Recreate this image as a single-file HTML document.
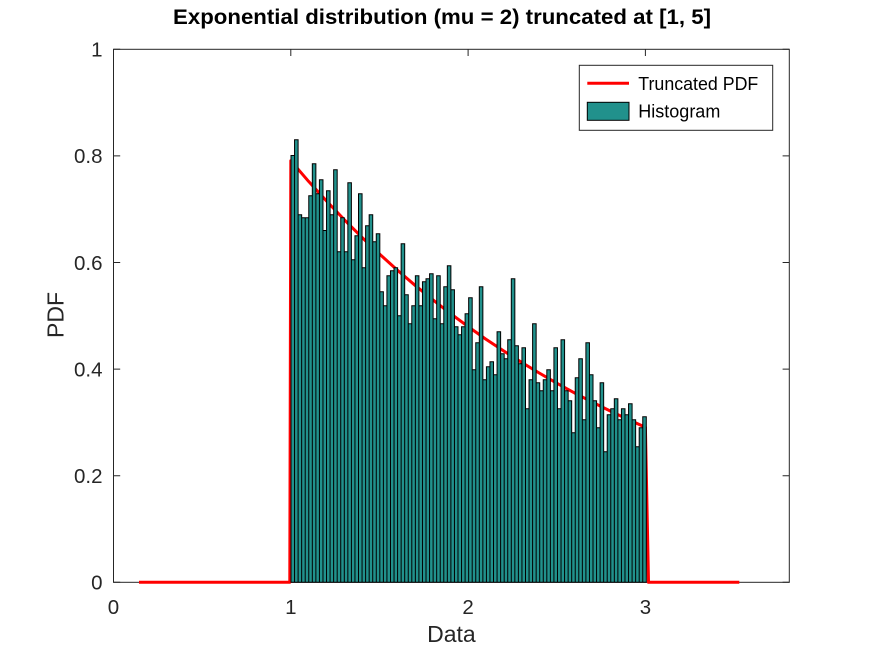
<!DOCTYPE html>
<html>
<head>
<meta charset="utf-8">
<style>
html,body{margin:0;padding:0;background:#fff;}
svg{display:block;}
text{font-family:"Liberation Sans",Arial,sans-serif;}
</style>
</head>
<body>
<svg width="872" height="654" viewBox="0 0 872 654" xmlns="http://www.w3.org/2000/svg">
<rect x="0" y="0" width="872" height="654" fill="#fff"/>
<rect x="113.5" y="49.3" width="675.8" height="533" fill="#fff" stroke="#262626" stroke-width="1"/>
<path fill="none" stroke="#262626" stroke-width="1" d="M113.5 582.3h6.7M789.3 582.3h-6.7M113.5 475.7h6.7M789.3 475.7h-6.7M113.5 369.1h6.7M789.3 369.1h-6.7M113.5 262.5h6.7M789.3 262.5h-6.7M113.5 155.9h6.7M789.3 155.9h-6.7M113.5 49.3h6.7M789.3 49.3h-6.7M290.8 582.3v-6.7M290.8 49.3v6.7M468.1 582.3v-6.7M468.1 49.3v6.7M645.4 582.3v-6.7M645.4 49.3v6.7"/>
<polyline fill="none" stroke="#ff0000" stroke-width="3" stroke-linejoin="round" points="139,582.3 289.8,582.3 290.8,160.7 308.5,181.3 326.3,200.8 344.0,219.4 361.7,237.1 379.5,254.0 397.2,270.0 414.9,285.2 432.7,299.7 450.4,313.5 468.1,326.6 485.8,339.1 503.6,350.9 521.3,362.2 539.0,372.9 556.8,383.2 574.5,392.9 592.2,402.1 610.0,410.9 627.7,419.3 645.4,427.2 648.5,582.3 739.3,582.3"/>
<path fill="#21918c" stroke="#000" stroke-width="1" d="M291 582.3V155.5h3.55V582.3zM294.55 582.3V139.8h3.55V582.3zM298.11 582.3V214.8h3.55V582.3zM301.66 582.3V217.8h3.55V582.3zM305.21 582.3V217.8h3.55V582.3zM308.77 582.3V195.8h3.55V582.3zM312.32 582.3V163.8h3.55V582.3zM315.87 582.3V193.8h3.55V582.3zM319.42 582.3V179.8h3.55V582.3zM322.98 582.3V230.5h3.55V582.3zM326.53 582.3V190.8h3.55V582.3zM330.08 582.3V214.8h3.55V582.3zM333.64 582.3V169.8h3.55V582.3zM337.19 582.3V251.8h3.55V582.3zM340.74 582.3V217.8h3.55V582.3zM344.3 582.3V251.8h3.55V582.3zM347.85 582.3V182.8h3.55V582.3zM351.4 582.3V259.8h3.55V582.3zM354.95 582.3V235.8h3.55V582.3zM358.51 582.3V193.8h3.55V582.3zM362.06 582.3V267.8h3.55V582.3zM365.61 582.3V225.8h3.55V582.3zM369.17 582.3V214.8h3.55V582.3zM372.72 582.3V241.8h3.55V582.3zM376.27 582.3V233.8h3.55V582.3zM379.83 582.3V291.8h3.55V582.3zM383.38 582.3V305.8h3.55V582.3zM386.93 582.3V275.8h3.55V582.3zM390.48 582.3V270.8h3.55V582.3zM394.04 582.3V267.8h3.55V582.3zM397.59 582.3V315.8h3.55V582.3zM401.14 582.3V243.8h3.55V582.3zM404.7 582.3V294.8h3.55V582.3zM408.25 582.3V323.8h3.55V582.3zM411.8 582.3V305.8h3.55V582.3zM415.36 582.3V275.8h3.55V582.3zM418.91 582.3V305.8h3.55V582.3zM422.46 582.3V281.8h3.55V582.3zM426.01 582.3V278.8h3.55V582.3zM429.57 582.3V273.8h3.55V582.3zM433.12 582.3V318.8h3.55V582.3zM436.67 582.3V275.8h3.55V582.3zM440.23 582.3V323.8h3.55V582.3zM443.78 582.3V286.8h3.55V582.3zM447.33 582.3V265.8h3.55V582.3zM450.89 582.3V289.8h3.55V582.3zM454.44 582.3V326.8h3.55V582.3zM457.99 582.3V334.8h3.55V582.3zM461.54 582.3V326.8h3.55V582.3zM465.1 582.3V313.8h3.55V582.3zM468.65 582.3V297.8h3.55V582.3zM472.2 582.3V369.8h3.55V582.3zM475.76 582.3V342.8h3.55V582.3zM479.31 582.3V286.8h3.55V582.3zM482.86 582.3V379.8h3.55V582.3zM486.42 582.3V366.8h3.55V582.3zM489.97 582.3V361.8h3.55V582.3zM493.52 582.3V374.8h3.55V582.3zM497.07 582.3V331.8h3.55V582.3zM500.63 582.3V353.8h3.55V582.3zM504.18 582.3V358.8h3.55V582.3zM507.73 582.3V339.8h3.55V582.3zM511.29 582.3V278.8h3.55V582.3zM514.84 582.3V345.8h3.55V582.3zM518.39 582.3V363.8h3.55V582.3zM521.95 582.3V347.8h3.55V582.3zM525.5 582.3V408.8h3.55V582.3zM529.05 582.3V379.8h3.55V582.3zM532.6 582.3V323.8h3.55V582.3zM536.16 582.3V382.8h3.55V582.3zM539.71 582.3V390.8h3.55V582.3zM543.26 582.3V379.8h3.55V582.3zM546.82 582.3V369.8h3.55V582.3zM550.37 582.3V390.8h3.55V582.3zM553.92 582.3V347.8h3.55V582.3zM557.48 582.3V408.8h3.55V582.3zM561.03 582.3V339.8h3.55V582.3zM564.58 582.3V390.8h3.55V582.3zM568.13 582.3V400.8h3.55V582.3zM571.69 582.3V432.8h3.55V582.3zM575.24 582.3V377.8h3.55V582.3zM578.79 582.3V358.8h3.55V582.3zM582.35 582.3V419.8h3.55V582.3zM585.9 582.3V342.8h3.55V582.3zM589.45 582.3V374.8h3.55V582.3zM593.01 582.3V400.8h3.55V582.3zM596.56 582.3V427.8h3.55V582.3zM600.11 582.3V382.8h3.55V582.3zM603.66 582.3V451.8h3.55V582.3zM607.22 582.3V414.8h3.55V582.3zM610.77 582.3V408.8h3.55V582.3zM614.32 582.3V398.8h3.55V582.3zM617.88 582.3V419.8h3.55V582.3zM621.43 582.3V408.8h3.55V582.3zM624.98 582.3V414.8h3.55V582.3zM628.54 582.3V403.8h3.55V582.3zM632.09 582.3V419.8h3.55V582.3zM635.64 582.3V446.8h3.55V582.3zM639.19 582.3V427.8h3.55V582.3zM642.75 582.3V416.8h3.55V582.3z"/>
<g fill="#262626" font-size="20.5">
<text x="102.5" y="589.6" text-anchor="end">0</text>
<text x="102.5" y="483.0" text-anchor="end">0.2</text>
<text x="102.5" y="376.4" text-anchor="end">0.4</text>
<text x="102.5" y="269.8" text-anchor="end">0.6</text>
<text x="102.5" y="163.2" text-anchor="end">0.8</text>
<text x="102.5" y="56.6" text-anchor="end">1</text>
<text x="113.5" y="614" text-anchor="middle">0</text>
<text x="290.8" y="614" text-anchor="middle">1</text>
<text x="468.1" y="614" text-anchor="middle">2</text>
<text x="645.4" y="614" text-anchor="middle">3</text>
</g>
<text x="451.4" y="642" text-anchor="middle" font-size="23" fill="#262626">Data</text>
<text x="0" y="0" transform="translate(63.3,315) rotate(-90)" text-anchor="middle" font-size="23" fill="#262626">PDF</text>
<text x="173" y="24" font-size="21" font-weight="bold" fill="#000" textLength="538" lengthAdjust="spacingAndGlyphs">Exponential distribution (mu = 2) truncated at [1, 5]</text>
<rect x="579.3" y="65.3" width="193.4" height="65" fill="#fff" stroke="#262626" stroke-width="1"/>
<line x1="587.3" y1="83.3" x2="629" y2="83.3" stroke="#ff0000" stroke-width="3"/>
<rect x="587.3" y="102.3" width="41.7" height="18" fill="#21918c" stroke="#000" stroke-width="1"/>
<text x="638.3" y="90" font-size="18" fill="#000" textLength="120" lengthAdjust="spacingAndGlyphs">Truncated PDF</text>
<text x="638.3" y="117.3" font-size="18" fill="#000">Histogram</text>
</svg>
</body>
</html>
